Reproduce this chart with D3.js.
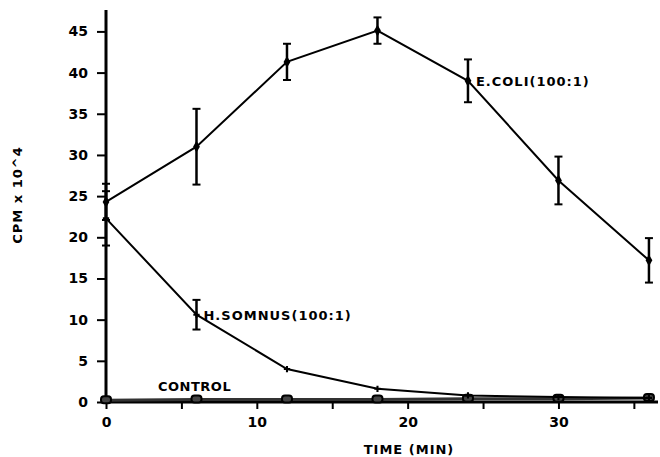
<!DOCTYPE html>
<html>
<head>
<meta charset="utf-8">
<script src="https://cdn.jsdelivr.net/npm/d3@7"></script>
<style>
  body { margin: 0; background: #fff; }
  text { font-family: "DejaVu Sans", sans-serif; font-weight: bold; fill: #000; }
</style>
</head>
<body>
<svg id="chart" width="660" height="457"></svg>
<script>
// Data
const times = [0, 6, 12, 18, 24, 30, 36];
const ecoli = [24.3, 31.0, 41.3, 45.1, 39.0, 26.9, 17.2];
const ecoliErr = [2.2, 4.6, 2.2, 1.6, 2.6, 2.9, 2.7];
const hsomnus = [22.3, 10.6, 4.0, 1.6, 0.8, 0.6, 0.5];
const hsomnusErr = [3.3, 1.8, 0, 0, 0, 0, 0];
const control = [0.2, 0.3, 0.3, 0.3, 0.4, 0.4, 0.5];
const xTicks = [0, 5, 10, 15, 20, 25, 30, 35];
const xLabels = [0, 10, 20, 30];
const yTicks = [0, 5, 10, 15, 20, 25, 30, 35, 40, 45];

const svg = d3.select('#chart');

const x = d3.scaleLinear().domain([0, 36.6]).range([106, 658]);
const y = d3.scaleLinear().domain([0, 47.6]).range([402, 10]);

// X axis
const xAxis = svg.append('g')
  .attr('transform', `translate(0, ${y(0)})`)
  .call(d3.axisBottom(x).tickValues(xTicks).tickSize(7).tickPadding(8)
    .tickFormat(d => xLabels.includes(d) ? d : ''));
xAxis.select('.domain').attr('stroke-width', 3).attr('d', `M${x(0)},0H${x(36.6)}`);
xAxis.selectAll('.tick line').attr('stroke-width', 2);
xAxis.selectAll('text').style('font-size', '14px').style('font-weight', 'bold');

// Y axis
const yAxis = svg.append('g')
  .attr('transform', `translate(${x(0)}, 0)`)
  .call(d3.axisLeft(y).tickValues(yTicks).tickSize(9).tickPadding(9));
yAxis.select('.domain').attr('stroke-width', 3).attr('d', `M0,${y(47.6)}V${y(0)}`);
yAxis.selectAll('.tick line').attr('stroke-width', 2);
yAxis.selectAll('text').style('font-size', '14px').style('font-weight', 'bold');
svg.selectAll('.domain, .tick line').attr('stroke', '#000');

// Axis titles
svg.append('text')
  .attr('transform', 'translate(22, 195) rotate(-90)')
  .attr('text-anchor', 'middle')
  .style('font-size', '13px')
  .style('letter-spacing', '1px')
  .text('CPM x 10^4');

svg.append('text')
  .attr('x', 409).attr('y', 454)
  .attr('text-anchor', 'middle')
  .style('font-size', '13px')
  .style('letter-spacing', '1px')
  .text('TIME (MIN)');

const line = d3.line().x((d, i) => x(times[i])).y(d => y(d));

// Control series
svg.append('path')
  .datum(control)
  .attr('d', line)
  .attr('fill', 'none')
  .attr('stroke', '#333')
  .attr('stroke-width', 3);
svg.selectAll('.ctrl')
  .data(control)
  .enter().append('rect')
  .attr('x', (d, i) => x(times[i]) - 5)
  .attr('y', d => y(d) - 4)
  .attr('width', 10).attr('height', 7)
  .attr('rx', 3)
  .attr('fill', '#444').attr('stroke', '#000').attr('stroke-width', 2);

// Error bars helper
function errorBars(vals, errs) {
  const g = svg.append('g').attr('stroke', '#000');
  vals.forEach((v, i) => {
    if (!errs[i]) return;
    const cx = x(times[i]);
    g.append('line')
      .attr('x1', cx).attr('x2', cx)
      .attr('y1', y(v - errs[i])).attr('y2', y(v + errs[i]))
      .attr('stroke-width', 2.5);
    [v - errs[i], v + errs[i]].forEach(e => {
      g.append('line')
        .attr('x1', cx - 4).attr('x2', cx + 4)
        .attr('y1', y(e)).attr('y2', y(e))
        .attr('stroke-width', 2);
    });
  });
}

// H. somnus series
svg.append('path')
  .datum(hsomnus)
  .attr('d', line)
  .attr('fill', 'none')
  .attr('stroke', '#000')
  .attr('stroke-width', 2);
errorBars(hsomnus, hsomnusErr);
svg.selectAll('.hs')
  .data(hsomnus)
  .enter().append('path')
  .attr('transform', (d, i) => `translate(${x(times[i])}, ${y(d)})`)
  .attr('d', d3.symbol(d3.symbolCross, 22))
  .attr('fill', '#000');

// E. coli series
svg.append('path')
  .datum(ecoli)
  .attr('d', line)
  .attr('fill', 'none')
  .attr('stroke', '#000')
  .attr('stroke-width', 2);
errorBars(ecoli, ecoliErr);
svg.selectAll('.ec')
  .data(ecoli)
  .enter().append('path')
  .attr('transform', (d, i) => `translate(${x(times[i])}, ${y(d)})`)
  .attr('d', d3.symbol(d3.symbolDiamond, 40))
  .attr('fill', '#000');

// Series labels
svg.append('text')
  .attr('x', x(24) + 8).attr('y', y(39.0) + 5)
  .style('font-size', '13px')
  .style('letter-spacing', '1px')
  .text('E.COLI(100:1)');

svg.append('text')
  .attr('x', x(6) + 7).attr('y', y(10.6) + 5)
  .style('font-size', '13px')
  .style('letter-spacing', '1px')
  .text('H.SOMNUS(100:1)');

svg.append('text')
  .attr('x', 158).attr('y', 391)
  .style('font-size', '13px')
  .style('letter-spacing', '0.5px')
  .text('CONTROL');
</script>
</body>
</html>
